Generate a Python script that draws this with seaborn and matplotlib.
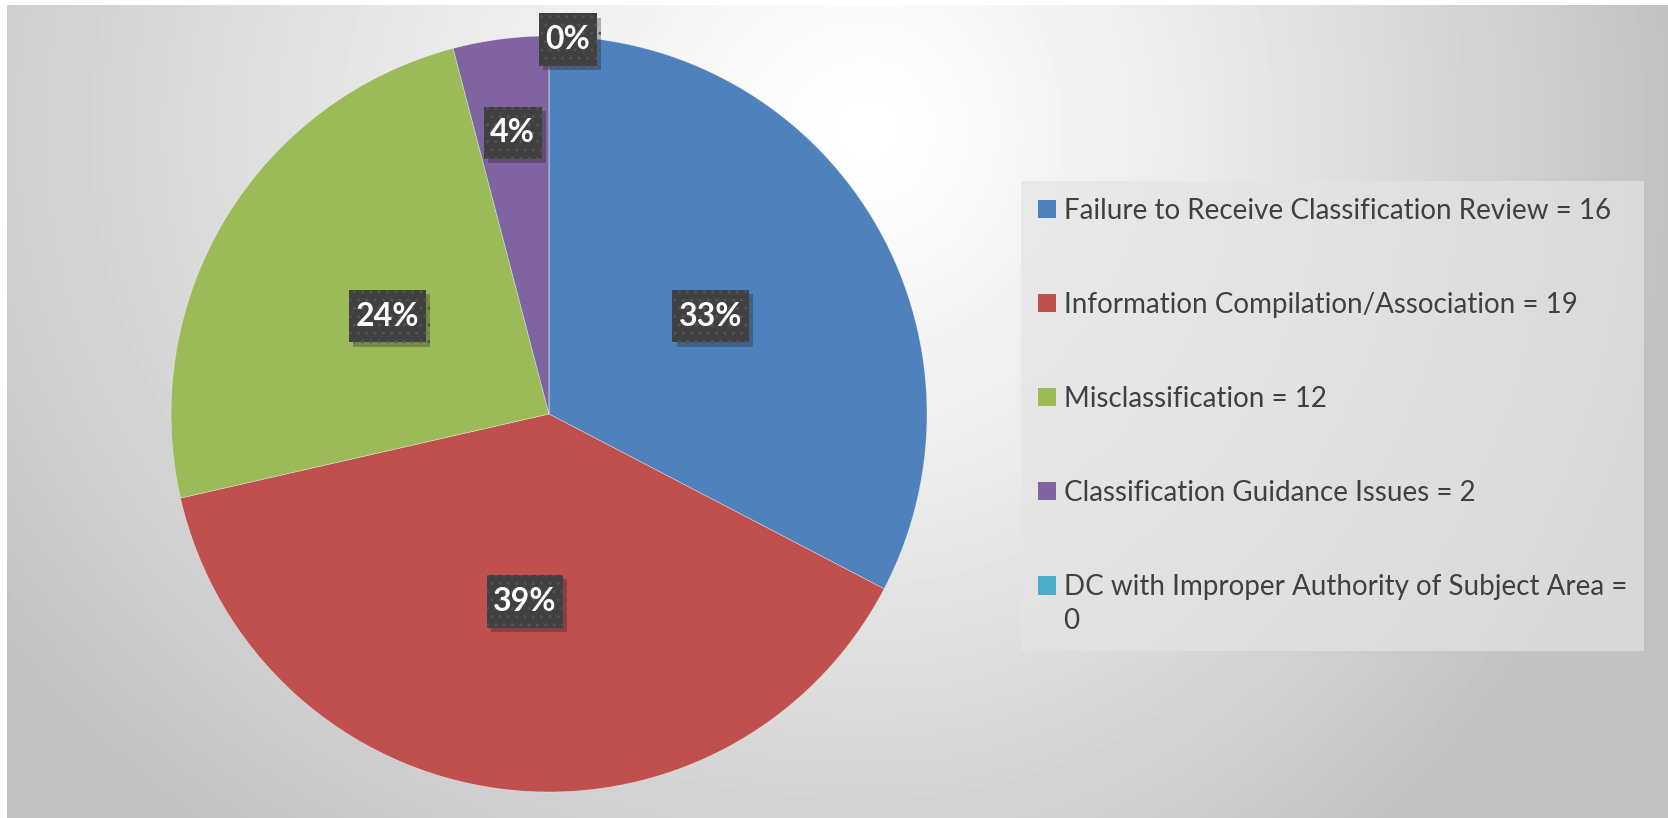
import textwrap
import numpy as np
import matplotlib
matplotlib.use("Agg")
import matplotlib.pyplot as plt
import matplotlib.patches as mpatches
import matplotlib.patheffects as pe
from matplotlib.path import Path
from matplotlib.legend_handler import HandlerPatch
import seaborn as sns

# ---------------- data ----------------
categories = [
    "Failure to Receive Classification Review",
    "Information Compilation/Association",
    "Misclassification",
    "Classification Guidance Issues",
    "DC with Improper Authority of Subject Area",
]
counts = [16, 19, 12, 2, 0]
colors = ["#4F81BD", "#C0504D", "#9BBB59", "#8064A2", "#4BACC6"]

# label placement (fraction of radius) and small x nudges
label_dist = [0.5, 0.5, 0.5, 0.75, 0.99]
label_dx = [0.0, 0.0, 0.0, 0.0, 0.05]

sns.set_theme(style="white")
plt.rcParams["font.family"] = ["Lato", "DejaVu Sans"]

W, H = 1668, 818
fig = plt.figure(figsize=(W / 100, H / 100), dpi=100)
fig.patch.set_facecolor("white")

# ---------------- background gradient ----------------
bg = fig.add_axes([7 / W, 0, 1 - 7 / W, 1 - 5 / H])
yy, xx = np.mgrid[5:H, 7:W].astype(float)
cx, cy = 870.0, 130.0
sx = np.where(xx > cx, 800.0, 1050.0)
r = np.sqrt(((xx - cx) / sx) ** 2 + ((yy - cy) / 900.0) ** 2)
b = 1 - 0.24 * np.clip(r, 0, 1) ** 1.2
bg.imshow(b, cmap="gray", vmin=0, vmax=1, aspect="auto", interpolation="bilinear")
bg.axis("off")

# ---------------- pie ----------------
R = 378
pcx, pcy = 549, 414
ax = fig.add_axes([(pcx - R) / W, (H - pcy - R) / H, 2 * R / W, 2 * R / H])
pal = sns.color_palette(colors)
wedges, _ = ax.pie(
    counts,
    colors=pal,
    startangle=90,
    counterclock=False,
    wedgeprops=dict(edgecolor=(1, 1, 1, 0.45), linewidth=0.5),
)
ax.set_xlim(-1, 1)
ax.set_ylim(-1, 1)
ax.set_aspect("equal")
ax.axis("off")


def label_box(x0, y0, width, height, mutation_size):
    px = 0.2 * mutation_size
    py = 0.37 * mutation_size
    x0, y0 = x0 - px, y0 - py
    x1, y1 = x0 + width + 2 * px, y0 + height + 2 * py
    return Path([(x0, y0), (x1, y0), (x1, y1), (x0, y1), (x0, y0)],
                closed=True)


total = sum(counts)
for w, v, d, dx in zip(wedges, counts, label_dist, label_dx):
    ang = np.deg2rad((w.theta1 + w.theta2) / 2)
    x = d * np.cos(ang) + dx
    y = d * np.sin(ang)
    t = ax.text(
        x, y, f"{round(v / total * 100):.0f}%",
        ha="center", va="center", color="white",
        fontsize=23, fontweight="bold", zorder=5,
        bbox=dict(boxstyle=label_box, facecolor="#404040",
                  edgecolor="#535353", linewidth=0, hatch=".."),
    )
    t.get_bbox_patch().set_path_effects([
        pe.SimplePatchShadow(offset=(3, -3), shadow_rgbFace="k", alpha=0.3),
        pe.Normal(),
    ])


# ---------------- legend ----------------
LEG_FS = 20
LINE_SP = 1.4


class FirstLineHandler(HandlerPatch):
    def create_artists(self, legend, orig_handle, xdescent, ydescent,
                       width, height, fontsize, trans):
        arts = super().create_artists(legend, orig_handle, xdescent, ydescent,
                                      width, height, fontsize, trans)
        for a in arts:
            a.set_y(a.get_y() + 0.5 * LINE_SP * fontsize)
        return arts


handles = [mpatches.Patch(facecolor=c, edgecolor="none") for c in pal]
labels = [textwrap.fill(f"{c} = {v}", 45) for c, v in zip(categories, counts)]
leg = fig.legend(
    handles, labels,
    loc="upper left", bbox_to_anchor=(1021 / W, 1 - 181 / H),
    bbox_transform=fig.transFigure, borderaxespad=0, borderpad=0.6,
    labelspacing=2.45, handlelength=0.65, handleheight=0.65,
    handletextpad=0.28, fontsize=LEG_FS, frameon=True, fancybox=False,
    facecolor="#e4e4e4", edgecolor="none", framealpha=0.7,
    handler_map={handles[-1]: FirstLineHandler()},
)
for t in leg.get_texts():
    t.set_color("#404040")
    t.set_linespacing(LINE_SP)

fig.savefig("out.png", dpi=100)
